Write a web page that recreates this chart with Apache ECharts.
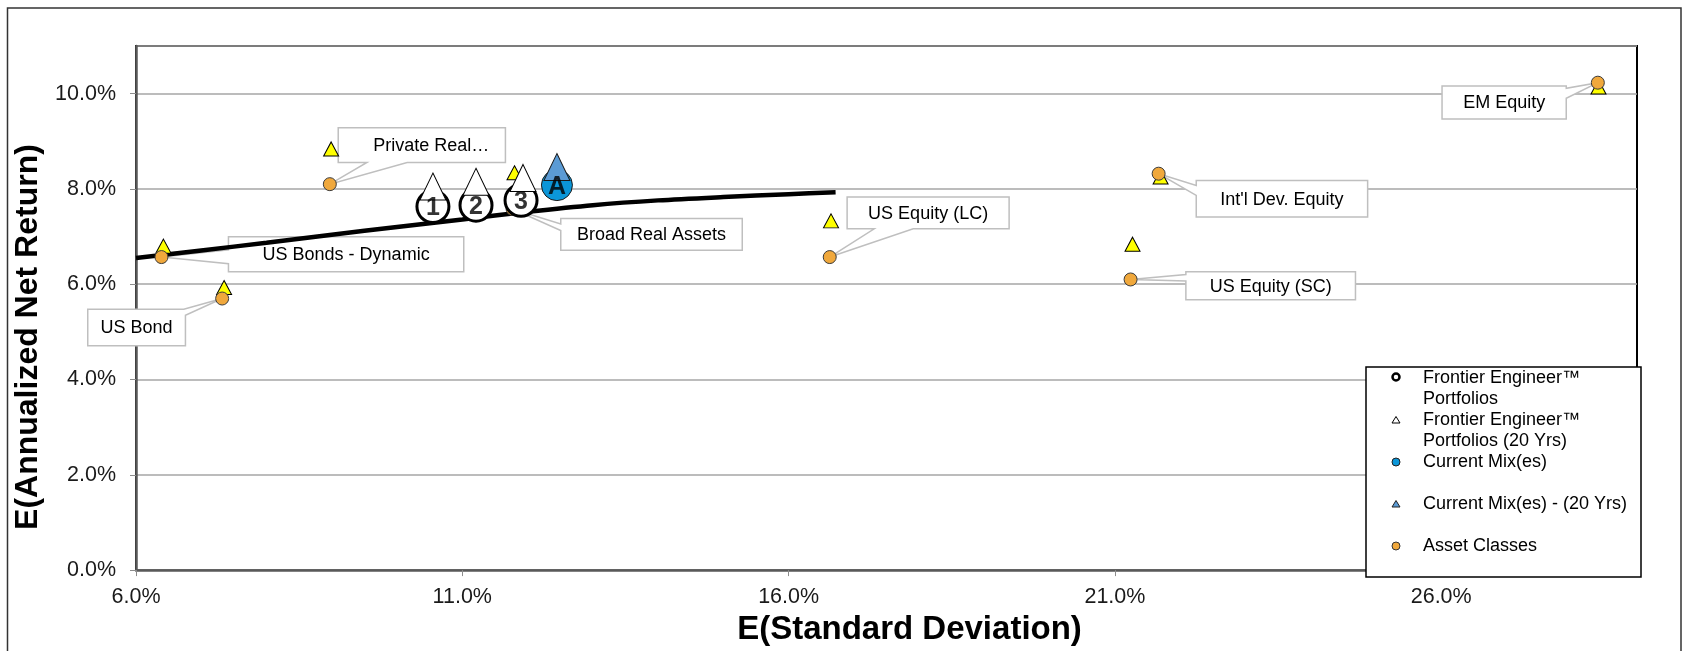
<!DOCTYPE html>
<html>
<head>
<meta charset="utf-8">
<title>Risk / Return</title>
<script src="https://cdn.jsdelivr.net/npm/echarts@6/dist/echarts.min.js"></script>
<style>
  html, body { margin: 0; padding: 0; background: #fff; }
  #chart { width: 1683px; height: 651px; }
</style>
</head>
<body>
<div id="chart"></div>
<script>
// x axis tick values (std dev, %)
const riskTicks = [6, 11, 16, 21, 26];

// efficient frontier curve
const frontierRisk = [6.0, 7.0, 8.0, 9.0, 10.0, 11.0, 12.0, 13.0, 14.0, 15.0, 16.0, 16.72];
const frontierReturn = [6.55, 6.71, 6.87, 7.04, 7.20, 7.36, 7.52, 7.66, 7.76, 7.83, 7.89, 7.93];

// Frontier Engineer portfolios
const portfolioNames = ['1', '2', '3'];
const portfolioRisk = [10.55, 11.21, 11.90];
const portfolioReturn = [7.63, 7.66, 7.76];
const portfolio20Risk = [10.55, 11.21, 11.93];
const portfolio20Return = [8.05, 8.15, 8.23];

// current mix
const mixNames = ['A'];
const mixRisk = [12.45];
const mixReturn = [8.08];
const mix20Risk = [12.45];
const mix20Return = [8.46];

// asset classes
const assetNames = ['US Bond', 'US Bonds - Dynamic', 'Private Real…', 'Broad Real Assets',
  'US Equity (LC)', 'US Equity (SC)', "Int'l Dev. Equity", 'EM Equity'];
const assetRisk = [7.32, 6.39, 8.97, 11.77, 16.63, 21.24, 21.67, 28.40];
const assetReturn = [5.70, 6.57, 8.10, 7.58, 6.57, 6.10, 8.32, 10.23];
const asset20Risk = [7.35, 6.42, 8.99, 11.80, 16.65, 21.27, 21.70, 28.41];
const asset20Return = [5.93, 6.80, 8.84, 8.34, 7.33, 6.84, 8.25, 10.14];

// callout boxes: offset of the box from its point [dx, dy, w, h], wedge side, wedge base a..b
const calloutLayout = {
  'US Bond': { box: [-134.4, 10.7, 97.7, 36.6], side: 'topright', a: 96, b: 6 },
  'US Bonds - Dynamic': { box: [67, -20.3, 235.3, 35], side: 'left', a: 13, b: 27 },
  'Private Real…': { box: [8.4, -56.4, 167.2, 34.7], side: 'bottom', a: 28.7, b: 68.9, tx: 93 },
  'Broad Real Assets': { box: [48.2, 9.6, 181.5, 31.7], side: 'left', a: 5.4, b: 12 },
  'US Equity (LC)': { box: [17.4, -60, 162, 31.7], side: 'bottom', a: 27.1, b: 66.1 },
  'US Equity (SC)': { box: [55.3, -7.7, 169.6, 28], side: 'left', a: 2.7, b: 9.3 },
  "Int'l Dev. Equity": { box: [37.6, 6.7, 171.4, 36.6], side: 'left', a: 5, b: 15 },
  'EM Equity': { box: [-155.8, 3.3, 124.2, 33], side: 'right', a: 2.3, b: 12.3 }
};

const FONT = '"Liberation Sans", Arial, sans-serif';

function zip(xs, ys) {
  return xs.map((x, i) => [x, ys[i]]);
}

function calloutPolygon(x0, y0, w, h, side, a, b, tip) {
  const p = (dx, dy) => [x0 + dx, y0 + dy];
  switch (side) {
    case 'left': return [p(0, 0), p(w, 0), p(w, h), p(0, h), p(0, b), tip, p(0, a)];
    case 'right': return [p(0, 0), p(w, 0), p(w, a), tip, p(w, b), p(w, h), p(0, h)];
    case 'bottom': return [p(0, 0), p(w, 0), p(w, h), p(b, h), tip, p(a, h), p(0, h)];
    case 'topright': return [p(0, 0), p(a, 0), tip, p(w, b), p(w, h), p(0, h)];
  }
}

const pct = v => v.toFixed(1) + '%';

// legend drawn as graphic (icons sit on the first text line)
const LX = 1366, LY = 367, ICX = 1396, TX = 1423;
function legendText(y, text) {
  return { type: 'text', x: TX, y: y, style: { text: text, font: '18px ' + FONT, fill: '#000', verticalAlign: 'middle' } };
}
const legendGraphic = [
  { type: 'rect', shape: { x: LX, y: LY, width: 275, height: 210 }, style: { fill: '#fff', stroke: '#000', lineWidth: 1.5 }, z: 50 },
  { type: 'circle', shape: { cx: ICX, cy: 377, r: 3.5 }, style: { fill: '#fff', stroke: '#000', lineWidth: 2.5 } },
  legendText(378, 'Frontier Engineer™'), legendText(399, 'Portfolios'),
  { type: 'polygon', shape: { points: [[ICX, 416.5], [ICX + 4, 423], [ICX - 4, 423]] }, style: { fill: '#fff', stroke: '#000', lineWidth: 1 } },
  legendText(420, 'Frontier Engineer™'), legendText(441, 'Portfolios (20 Yrs)'),
  { type: 'circle', shape: { cx: ICX, cy: 462, r: 4 }, style: { fill: '#0b96d8', stroke: '#222', lineWidth: 1 } },
  legendText(462, 'Current Mix(es)'),
  { type: 'polygon', shape: { points: [[ICX, 500.5], [ICX + 4, 507], [ICX - 4, 507]] }, style: { fill: '#5b9bd5', stroke: '#222', lineWidth: 1 } },
  legendText(504, 'Current Mix(es) - (20 Yrs)'),
  { type: 'circle', shape: { cx: ICX, cy: 546, r: 4 }, style: { fill: '#f0a83c', stroke: '#333', lineWidth: 1 } },
  legendText(546, 'Asset Classes')
].map(g => Object.assign({ z: 51 }, g));

const chart = echarts.init(document.getElementById('chart'));
chart.setOption({
  animation: false,
  textStyle: { fontFamily: FONT },
  grid: {
    left: 136, right: 46, top: 46, bottom: 75,
    show: true, borderColor: '#000', borderWidth: 2
  },
  xAxis: {
    type: 'value', min: 6, max: 29,
    name: 'E(Standard Deviation)', nameLocation: 'middle', nameGap: 37,
    nameTextStyle: { fontSize: 33, fontWeight: 'bold', color: '#000', padding: [0, 0, 0, 46] },
    axisLine: { show: true, onZero: false, lineStyle: { color: '#595959', width: 2.5 } },
    axisTick: { show: true, customValues: riskTicks, length: 6, lineStyle: { color: '#8c8c8c' } },
    axisLabel: { customValues: riskTicks, formatter: pct, fontSize: 21.5, color: '#1a1a1a', margin: 16 },
    splitLine: { show: false }
  },
  yAxis: {
    type: 'value', min: 0, max: 11, interval: 2,
    name: 'E(Annualized Net Return)', nameLocation: 'middle', nameGap: 90,
    nameTextStyle: { fontSize: 32, fontWeight: 'bold', color: '#000', padding: [0, 58, 0, 0] },
    axisLine: { show: true, lineStyle: { color: '#595959', width: 2.5 } },
    axisTick: { show: true, length: 6, lineStyle: { color: '#8c8c8c' } },
    axisLabel: { formatter: pct, fontSize: 21.5, color: '#1a1a1a', margin: 20, showMaxLabel: false },
    splitLine: { show: true, lineStyle: { color: '#a6a6a6', width: 1.5 } }
  },
  graphic: [
    { type: 'rect', shape: { x: 7.5, y: 8, width: 1673.5, height: 660 }, style: { fill: 'none', stroke: '#333', lineWidth: 1.5 }, silent: true, z: -1 }
  ].concat(legendGraphic),
  series: [
    {
      name: 'Asset class labels',
      type: 'custom',
      clip: false,
      z: 3,
      data: zip(assetRisk, assetReturn),
      renderItem: function (params, api) {
        const name = assetNames[params.dataIndex];
        const lay = calloutLayout[name];
        const pt = api.coord([api.value(0), api.value(1)]);
        const x0 = pt[0] + lay.box[0], y0 = pt[1] + lay.box[1];
        const w = lay.box[2], h = lay.box[3];
        return {
          type: 'group',
          children: [
            {
              type: 'polygon',
              shape: { points: calloutPolygon(x0, y0, w, h, lay.side, lay.a, lay.b, pt) },
              style: { fill: '#fff', stroke: '#bfbfbf', lineWidth: 1.5 }
            },
            {
              type: 'text',
              x: x0 + (lay.tx !== undefined ? lay.tx : w / 2),
              y: y0 + h / 2 + 1,
              style: { text: name, font: '18px ' + FONT, fill: '#000', align: 'center', verticalAlign: 'middle' }
            }
          ]
        };
      }
    },
    {
      name: 'Frontier',
      type: 'line',
      z: 4,
      data: zip(frontierRisk, frontierReturn),
      smooth: 0.3,
      showSymbol: false,
      lineStyle: { color: '#000', width: 4.5 }
    },
    {
      name: 'Asset Classes (20 Yrs)',
      type: 'scatter',
      z: 5,
      symbol: 'triangle',
      symbolSize: [15, 14],
      data: zip(asset20Risk, asset20Return),
      itemStyle: { color: '#ffff00', borderColor: '#000', borderWidth: 1, opacity: 1 }
    },
    {
      name: 'Asset Classes',
      type: 'scatter',
      z: 6,
      symbolSize: 13,
      data: zip(assetRisk, assetReturn),
      itemStyle: { color: '#f0a83c', borderColor: '#3a3a3a', borderWidth: 1, opacity: 1 }
    },
    {
      name: 'Frontier Engineer™ Portfolios',
      type: 'scatter',
      z: 7,
      symbolSize: 32,
      data: zip(portfolioRisk, portfolioReturn),
      itemStyle: { color: '#fff', borderColor: '#000', borderWidth: 3, opacity: 1 }
    },
    {
      name: 'Frontier Engineer™ Portfolios (20 Yrs)',
      type: 'scatter',
      z: 8,
      symbol: 'triangle',
      symbolSize: [26, 27],
      data: zip(portfolio20Risk, portfolio20Return),
      itemStyle: { color: '#fff', borderColor: '#000', borderWidth: 1, opacity: 1 }
    },
    {
      name: 'Current Mix(es)',
      type: 'scatter',
      z: 7,
      symbolSize: 31,
      data: zip(mixRisk, mixReturn),
      itemStyle: { color: '#0b96d8', borderColor: '#1a1a1a', borderWidth: 1, opacity: 1 }
    },
    {
      name: 'Current Mix(es) - (20 Yrs)',
      type: 'scatter',
      z: 8,
      symbol: 'triangle',
      symbolSize: [26, 27],
      data: zip(mix20Risk, mix20Return),
      itemStyle: { color: '#5b9bd5', borderColor: '#1a1a1a', borderWidth: 1, opacity: 1 }
    },
    {
      // number / letter markers drawn on top
      name: 'Marker labels',
      type: 'scatter',
      z: 9,
      symbolSize: 1,
      silent: true,
      data: zip(portfolioRisk, portfolioReturn).map((d, i) => ({ value: d, name: portfolioNames[i] }))
        .concat(zip(mixRisk, mixReturn).map((d, i) => ({ value: d, name: mixNames[i] }))),
      itemStyle: { color: 'rgba(0,0,0,0)' },
      label: {
        show: true, position: 'inside', formatter: '{b}',
        fontSize: 25, fontWeight: 'bold', color: '#000', offset: [0, 2]
      }
    }
  ]
});
</script>
</body>
</html>
